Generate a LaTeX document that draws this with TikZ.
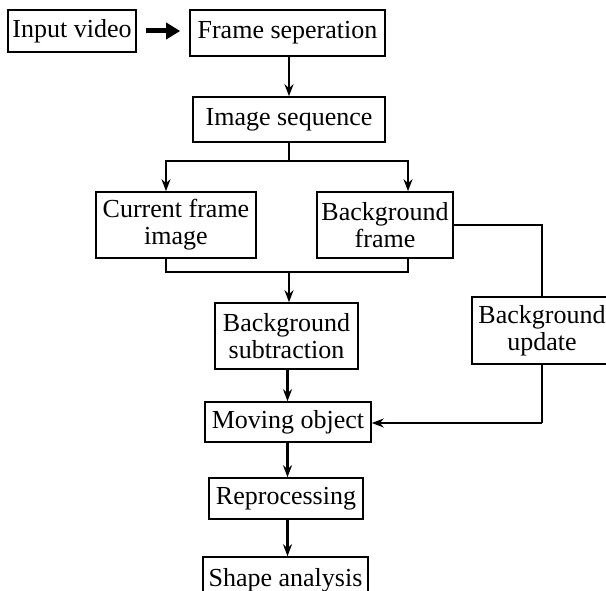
\documentclass[tikz,border=0pt]{standalone}
\usepackage{fontspec}
\setmainfont{Liberation Serif}
\usetikzlibrary{arrows.meta}

\def\fsize{26}

\begin{document}
\begin{tikzpicture}[x=1pt, y=-1pt,
    box/.style={draw, line width=1.6pt, inner sep=0pt, align=center,
      font=\fontsize{\fsize}{27}\selectfont},
    con/.style={line width=2.4pt},
    arr/.style={con, -{Stealth[length=12pt, width=9pt]}}]
      \useasboundingbox (0,0) rectangle (606,591);
      \clip (0,0) rectangle (606,591);
      \node[box, minimum width=128, minimum height=42] (input) at (72, 31) {Input video};
      \node[box, minimum width=195, minimum height=46] (frame) at (287.5, 33) {Frame seperation};
      \node[box, minimum width=192, minimum height=45] (imgseq) at (289, 119.5) {Image sequence};
      \node[box, minimum width=160, minimum height=66] (current) at (176, 225) {Current frame\\image};
      \node[box, minimum width=136, minimum height=66] (bgframe) at (385, 225) {Background\\frame};
      \node[box, minimum width=143, minimum height=66] (bgsub) at (286.5, 336) {Background\\subtraction};
      \node[box, minimum width=140, minimum height=67] (bgupd) at (542, 330.5) {Background\\update};
      \node[box, minimum width=166, minimum height=40] (moving) at (288, 422) {Moving object};
      \node[box, minimum width=154, minimum height=41] (reproc) at (286, 498.5) {Reprocessing};
      \node[box, minimum width=165, minimum height=46] (shape) at (285.5, 580) {Shape analysis};
      \coordinate (split) at (289, 161);
      \coordinate (merge) at (289, 272);
      \coordinate (feedback) at (542, 423);
      \coordinate (trunk) at (287.5, 0);
      \draw[line width=5pt, -{Triangle[length=14pt, width=16pt]}] ([xshift=9pt]input.east) -- ([xshift=-9pt]input.east -| frame.west);
      \draw[arr] (split |- frame.south) -- (split |- imgseq.north);
      \draw[con] (imgseq.south) -- (split);
      \draw[arr] (split) -| ([xshift=-10pt]current.north);
      \draw[arr] (split) -| ([xshift=23pt]bgframe.north);
      \draw[con] ([xshift=-10pt]current.south) |- (merge) -| ([xshift=23pt]bgframe.south);
      \draw[arr] (merge) -- (merge |- bgsub.north);
      \draw[con] (bgframe.east) -| (bgupd.north);
      \draw[con] (bgupd.south) -- (feedback);
      \draw[arr] (feedback) -- (feedback -| moving.east);
      \draw[arr] (trunk |- bgsub.south) -- (trunk |- moving.north);
      \draw[arr] (trunk |- moving.south) -- (trunk |- reproc.north);
      \draw[arr] (trunk |- reproc.south) -- (trunk |- shape.north);
    \end{tikzpicture}
\end{document}
